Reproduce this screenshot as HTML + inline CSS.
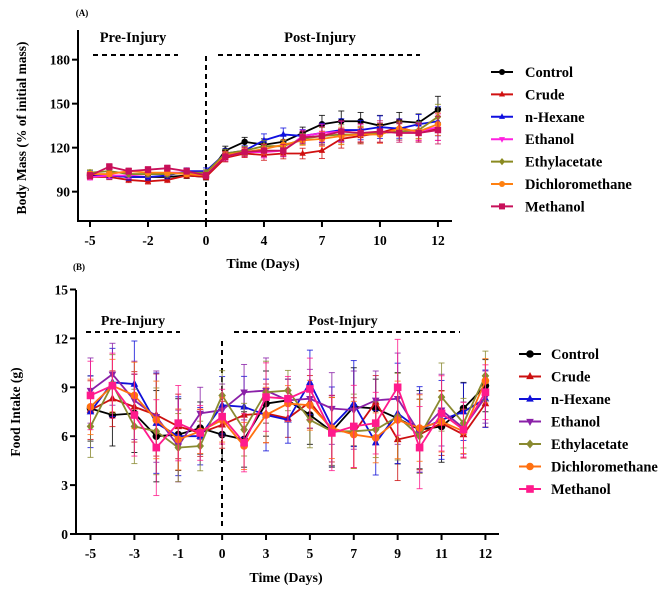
<!DOCTYPE html>
<html><head><meta charset="utf-8"><style>
html,body{margin:0;padding:0;background:#fff;}
svg{display:block;font-family:"Liberation Serif",serif;font-weight:bold;}
</style></head><body>
<svg id="fig" width="669" height="594" viewBox="0 0 669 594" xmlns="http://www.w3.org/2000/svg">
<g id="chartA"></g>
<g id="chartB"></g>
</svg>
<script>
// ---- data ----
const seriesNames = ["Control","Crude","n-Hexane","Ethanol","Ethylacetate","Dichloromethane","Methanol"];
const dayIndex = [0,1,2,3,4,5,6,7,8,9,10,11,12,13,14,15,16,17,18];
const ticksA = [[0,"-5"],[3,"-2"],[6,"0"],[9,"4"],[12,"7"],[15,"10"],[18,"12"]];
const ticksB = [[0,"-5"],[2,"-3"],[4,"-1"],[6,"0"],[8,"3"],[10,"5"],[12,"7"],[14,"9"],[16,"11"],[18,"12"]];
const yTicksA = [90,120,150,180];
const yTicksB = [0,3,6,9,12,15];
const massControl = [101,101,100,100,100,101,100,118,124,122,124,130,136,138,138,135,138,137,146];
const massCrude   = [100,100,98,97,98,101,100,113,116,115,116,116,118,126,128,130,134,130,133];
const massHexane  = [102,101,100,100,101,104,104,116,118,125,129,128,130,132,132,134,133,136,138];
const massEthanol = [100,101,101,102,103,103,102,114,117,117,118,128,130,131,130,130,131,131,134];
const massEthylac = [103,104,102,102,102,103,103,116,118,121,121,126,128,129,129,130,131,132,141];
const massDCM     = [102,102,104,103,103,102,101,115,117,119,122,125,126,128,129,129,133,131,136];
const massMethanol= [101,107,104,105,106,104,101,114,117,118,118,127,128,131,130,131,130,130,132];
const massErr     = [2,2,2,2,2,2,2,3,3,4,4,4,6,7,6,7,6,6,9];
const foodControl = [7.7,7.3,7.4,6.0,6.1,6.5,6.1,5.8,8.0,8.2,7.3,6.3,7.8,7.7,7.1,6.4,6.6,7.7,9.1];
const foodCrude   = [7.6,8.3,7.8,7.3,6.6,6.2,6.7,7.3,7.4,7.1,8.1,6.4,6.2,8.1,5.8,6.1,6.8,6.1,8.0];
const foodHexane  = [7.5,9.3,9.2,6.8,6.0,6.0,7.9,7.8,7.3,7.0,9.3,6.6,8.0,5.6,7.4,6.4,7.0,7.5,8.3];
const foodEthanol = [8.8,9.8,8.2,7.2,5.4,7.4,7.6,8.7,8.8,8.2,8.3,7.7,7.6,8.2,8.3,6.2,7.6,6.5,8.4];
const foodEthylac = [6.6,9.2,6.6,6.3,5.3,5.4,8.5,6.4,8.7,8.8,7.0,6.3,6.3,6.4,7.2,6.0,8.4,6.8,9.7];
const foodDCM     = [7.8,9.1,8.5,7.0,5.8,6.3,7.0,5.4,7.3,8.0,7.9,6.5,6.1,5.9,7.0,6.5,6.9,6.3,9.4];
const foodMethanol= [8.5,9.1,7.3,5.3,6.8,6.2,7.2,5.6,8.4,8.3,8.9,6.2,6.6,6.8,9.0,5.3,7.4,6.4,8.7];
const foodErr     = [2.0,1.9,2.4,2.8,2.2,1.6,1.6,1.7,2.0,1.3,1.8,2.2,2.4,1.8,2.8,2.4,2.2,1.6,1.6];

const NS="http://www.w3.org/2000/svg";
function mk(parent,tag,attrs,text){const e=document.createElementNS(NS,tag);for(const k in attrs)e.setAttribute(k,attrs[k]);if(text!==undefined)e.textContent=text;parent.appendChild(e);return e;}
function marker(g,shape,x,y,c,s){
  if(shape==="circle"){return mk(g,"circle",{cx:x,cy:y,r:s,fill:c});}
  if(shape==="up"){return mk(g,"polygon",{points:`${x},${y-s*1.2} ${x-s},${y+s*0.7} ${x+s},${y+s*0.7}`,fill:c});}
  if(shape==="down"){return mk(g,"polygon",{points:`${x},${y+s*1.2} ${x-s},${y-s*0.7} ${x+s},${y-s*0.7}`,fill:c});}
  if(shape==="diamond"){return mk(g,"polygon",{points:`${x},${y-s*1.2} ${x+s},${y} ${x},${y+s*1.2} ${x-s},${y}`,fill:c});}
  return mk(g,"rect",{x:x-s,y:y-s,width:2*s,height:2*s,fill:c});
}
const shapes=["circle","up","up","down","diamond","circle","square"];
const errScale=[1,0.9,1.1,1,0.95,0.85,1.05];

function drawChart(cfg){
  const g=document.getElementById(cfg.id);
  const X=i=>cfg.x0+i*cfg.dx;
  const Y=v=>cfg.yb-(v-cfg.vmin)*cfg.py;
  let e;
  e=mk(g,"line",{x1:cfg.ax,y1:cfg.atop,x2:cfg.ax,y2:cfg.yb,stroke:"#000","stroke-width":2});
  
  
  e=mk(g,"line",{x1:cfg.ax-1,y1:cfg.yb,x2:cfg.axEnd,y2:cfg.yb,stroke:"#000","stroke-width":2});
  
  
  cfg.yt.forEach(v=>{
    mk(g,"line",{x1:cfg.ax-6,y1:Y(v),x2:cfg.ax,y2:Y(v),stroke:"#000","stroke-width":2});
    e=mk(g,"text",{x:cfg.ax-8,y:Y(v)+5,"text-anchor":"end","font-size":13.5},String(v));
    
    
  });
  cfg.xt.forEach(t=>{
    mk(g,"line",{x1:X(t[0]),y1:cfg.yb,x2:X(t[0]),y2:cfg.yb+6,stroke:"#000","stroke-width":2});
    e=mk(g,"text",{x:X(t[0]),y:cfg.yb+24,"text-anchor":"middle","font-size":13.5},t[1]);
    
    
  });
  cfg.dashes.forEach(d=>{mk(g,"line",{x1:d[0],y1:d[1],x2:d[2],y2:d[3],stroke:"#000","stroke-width":2,"stroke-dasharray":"5,4"});});
  cfg.data.forEach((arr,s)=>{
    const sg=mk(g,"g",{});
    
    
    const c=cfg.colors[s];
    arr.forEach((v,i)=>{
      const er=cfg.err[i]*errScale[s];
      mk(sg,"line",{x1:X(i),y1:Y(v-er),x2:X(i),y2:Y(v+er),stroke:c,"stroke-width":1,opacity:0.8});
      mk(sg,"line",{x1:X(i)-3,y1:Y(v+er),x2:X(i)+3,y2:Y(v+er),stroke:c,"stroke-width":1,opacity:0.8});
      mk(sg,"line",{x1:X(i)-3,y1:Y(v-er),x2:X(i)+3,y2:Y(v-er),stroke:c,"stroke-width":1,opacity:0.8});
    });
    const pl=mk(sg,"polyline",{points:arr.map((v,i)=>X(i)+","+Y(v)).join(" "),fill:"none",stroke:c,"stroke-width":1.8});
    
    
    arr.forEach((v,i)=>{
      const m=marker(sg,shapes[s],X(i),Y(v),c,cfg.ms);
      
      
    });
  });
  seriesNames.forEach((n,s)=>{
    const lg=mk(g,"g",{});
    
    
    const y=cfg.ly0+s*cfg.ldy;
    mk(lg,"line",{x1:cfg.lx,y1:y,x2:cfg.lx+22,y2:y,stroke:cfg.colors[s],"stroke-width":2});
    marker(lg,shapes[s],cfg.lx+11,y,cfg.colors[s],cfg.lms);
    mk(lg,"text",{x:cfg.lx+cfg.ltx,y:y+5,"font-size":cfg.lfs},n);
  });
  cfg.texts.forEach(t=>{
    e=mk(g,"text",{x:t[0],y:t[1],"text-anchor":"middle","font-size":t[3],transform:t[4]||""},t[2]);
    
    
  });
}

drawChart({id:"chartA",x0:90,dx:19.33,yb:221,vmin:70,py:44/30,ax:78,atop:30,axEnd:452,
  xt:ticksA,yt:yTicksA,ms:3.2,lms:3,
  data:[massControl,massCrude,massHexane,massEthanol,massEthylac,massDCM,massMethanol],err:massErr,
  colors:["#000","#d01010","#1010e0","#ff20e0","#8a8a20","#ff8010","#c8105a"],
  dashes:[[93,55,178,55],[218,55,420,55],[206,56,206,221]],
  lx:491,ly0:72,ldy:22.4,ltx:34,lfs:14.5,
  texts:[[133,42,"Pre-Injury",14.5,"","pre-injury-label"],[320,42,"Post-Injury",14.5,"","post-injury-label"],[82,16,"(A)",9,"","panel-a-label"],
    [263,268,"Time (Days)",14,"","x-axis-title"],[26,128,"Body Mass (% of initial mass)",13.5,"rotate(-90 26 128)","y-axis-title"]]
});
drawChart({id:"chartB",x0:90.5,dx:21.94,yb:534,vmin:0,py:48.9/3,ax:76,atop:290,axEnd:499,
  xt:ticksB,yt:yTicksB,ms:3.8,lms:3.8,
  data:[foodControl,foodCrude,foodHexane,foodEthanol,foodEthylac,foodDCM,foodMethanol],err:foodErr,
  colors:["#000","#cc1010","#1010d8","#8a20a8","#8a8a30","#ff7010","#ff1a8c"],
  dashes:[[86,332,180,332],[234,332,460,332],[222,341,222,527]],
  lx:519,ly0:354,ldy:22.5,ltx:32,lfs:14.5,
  texts:[[133,325,"Pre-Injury",14,"","pre-injury-label"],[343,325,"Post-Injury",14,"","post-injury-label"],[79,270,"(B)",9,"","panel-b-label"],
    [286,582,"Time (Days)",14,"","x-axis-title"],[20,412,"Food Intake (g)",13.5,"rotate(-90 20 412)","y-axis-title"]]
});
</script>
</body></html>
